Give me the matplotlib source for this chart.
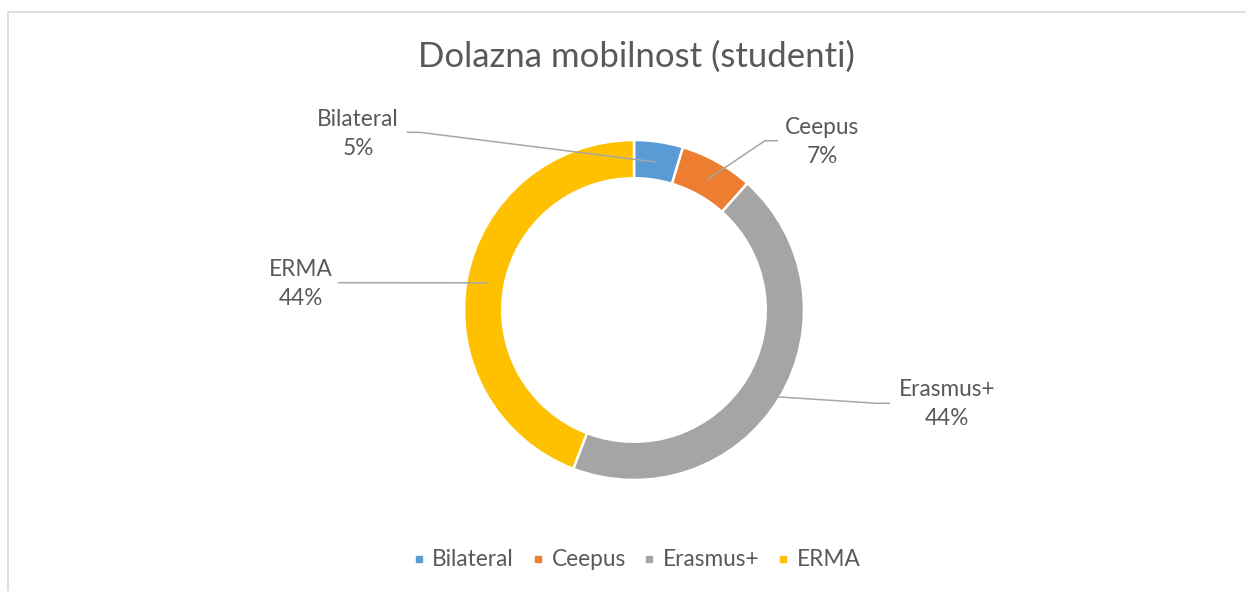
import matplotlib
matplotlib.use("Agg")
import matplotlib.pyplot as plt
from matplotlib.lines import Line2D
import numpy as np

# data
categories = ["Bilateral", "Ceepus", "Erasmus+", "ERMA"]
students = [2, 3, 19, 19]
colors = ["#5B9BD5", "#ED7D31", "#A5A5A5", "#FFC000"]

title = "Dolazna mobilnost (studenti)"
text_color = "#595959"
line_color = "#A6A6A6"

plt.rcParams["font.family"] = ["Lato", "DejaVu Sans"]

W, H = 1246, 591
cx, cy, R = 634, 310, 170  # donut centre / radius in pixels

fig = plt.figure(figsize=(W / 100, H / 100), dpi=100)
ax = fig.add_axes([0, 0, 1, 1])

wedges, _ = ax.pie(students, colors=colors, startangle=90, counterclock=False,
                   radius=1, wedgeprops=dict(width=0.225, edgecolor="white", linewidth=1.8))
ax.set_xlim(-cx / R, (W - cx) / R)
ax.set_ylim(-(H - cy) / R, cy / R)
ax.set_aspect("equal")
ax.axis("off")

# data labels with leader lines (label centre, line start; pixel coords)
label_pos = [(358, 134), (822, 142), (947, 404), (301, 284)]
line_start = [(406.7, 132.3), (778, 140.7), (890, 403.3), (338, 282.7)]
elbow_dir = [1, -1, -1, 1]
end_r = [0.88, 0.88, 0.98, 0.88]

def px(p):
    return ((p[0] - cx) / R, (cy - p[1]) / R)

total = sum(students)
for i, w in enumerate(wedges):
    mid = np.deg2rad((w.theta1 + w.theta2) / 2)
    ex, ey = end_r[i] * np.cos(mid), end_r[i] * np.sin(mid)
    sx, sy = px(line_start[i])
    bx = sx + elbow_dir[i] * 13 / R
    ax.plot([sx, bx, ex], [sy, sy, ey], color=line_color, lw=1.1, solid_capstyle="butt")
    tx, ty = px(label_pos[i])
    pct = f"{students[i] / total * 100:.0f}%"
    ax.text(tx, ty, f"{categories[i]}\n{pct}", ha="center", va="center",
            fontsize=16.3, color=text_color, linespacing=1.5)

fig.text(636 / W, 1 - 57 / H, title, ha="center", va="center", fontsize=25, color=text_color)

handles = [Line2D([], [], marker="s", linestyle="", color=c, markersize=5) for c in colors]
fig.legend(handles, categories, loc="center", bbox_to_anchor=(637 / W, 1 - 560 / H), ncol=4,
           frameon=False, fontsize=16.3, labelcolor=text_color, handlelength=0.5,
           handletextpad=0.35, columnspacing=0.8)

# chart area border
fig.add_artist(Line2D([8 / W, 8 / W, 1], [0, 1 - 12 / H, 1 - 12 / H], color="#D9D9D9", lw=1.2))

fig.savefig("out.png", dpi=100)
